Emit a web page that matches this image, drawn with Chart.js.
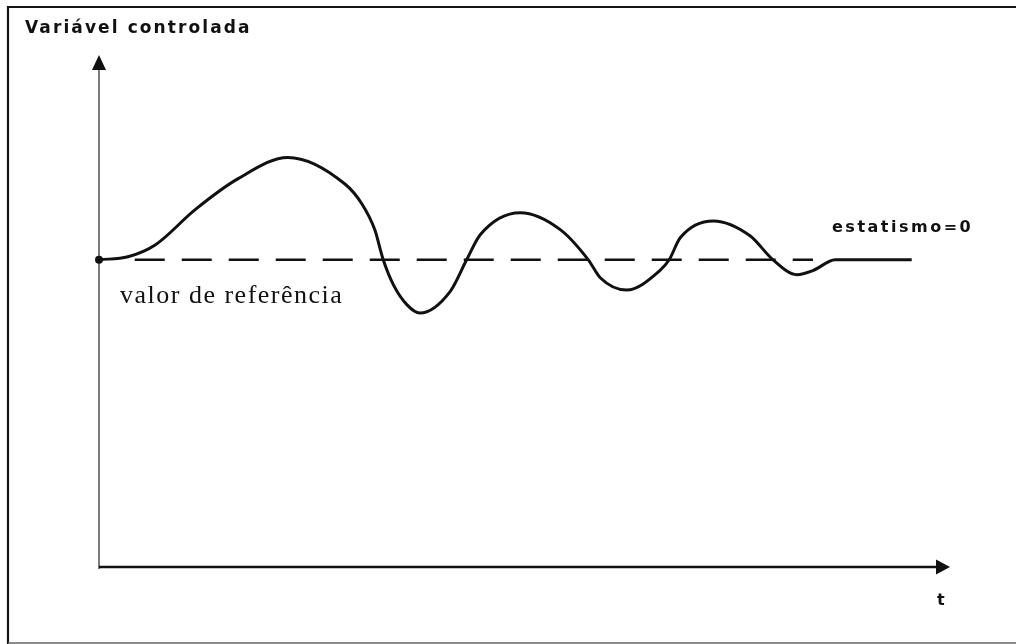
<!DOCTYPE html>
<html>
<head>
<meta charset="utf-8">
<title>Variável controlada</title>
<script src="https://cdn.jsdelivr.net/npm/chart.js@4.4.1/dist/chart.umd.min.js"></script>
<style>
  html, body { margin: 0; padding: 0; background: #fff; }
  #wrap { position: relative; width: 1016px; height: 644px; }
</style>
</head>
<body>
<div id="wrap"><canvas id="resposta"></canvas></div>
<script>
// time (0..100 along the t axis) and controlled variable (0..100 along the vertical axis)
const tempo = [0, 3.4, 6.6, 11.3, 16.3, 22.2, 28.9, 30.9, 32.4, 33.4, 34.6, 36.2, 37.7,
  41.3, 43.2, 44.8, 49.5, 54.2, 57.5, 58.9, 62.0, 65.9, 67.0, 68.3, 72.2,
  76.5, 79.2, 82.0, 83.9, 86.5, 95.5];
const variavel = [60, 60.6, 62.9, 69.8, 75.8, 80.0, 74.8, 70.9, 65.9, 60, 55.1, 51.2, 49.6,
  53.9, 60, 64.9, 69.2, 65.9, 60, 56.5, 54.1, 57.9, 60, 64.3, 67.6,
  64.7, 60, 57.1, 57.9, 60, 60];

// reference value, drawn dashed
const valorReferencia = 60;
const refInicio = 4.2;
const refFim = 83.9;

const eixoMax = 100;

const rotuloEixoY = 'Variável controlada';
const rotuloEixoX = 't';
const rotuloReferencia = 'valor de referência';
const rotuloEstatismo = 'estatismo=0';

const pontosCurva = tempo.map((t, i) => ({ x: t, y: variavel[i] }));
const pontosRef = [{ x: refInicio, y: valorReferencia }, { x: refFim, y: valorReferencia }];

// page frame, axes with arrow heads and the text labels
const desenhoFigura = {
  id: 'desenhoFigura',
  beforeDraw(chart) {
    const ctx = chart.ctx;
    ctx.save();
    ctx.fillStyle = '#fff';
    ctx.fillRect(0, 0, chart.width, chart.height);

    // frame
    ctx.strokeStyle = '#151515';
    ctx.lineWidth = 2.2;
    ctx.beginPath();
    ctx.moveTo(8, chart.height);
    ctx.lineTo(8, 7);
    ctx.lineTo(chart.width, 7);
    ctx.stroke();
    ctx.strokeStyle = '#666';
    ctx.lineWidth = 1.5;
    ctx.beginPath();
    ctx.moveTo(8, 643);
    ctx.lineTo(chart.width, 643);
    ctx.stroke();
    ctx.restore();
  },
  afterDraw(chart) {
    const ctx = chart.ctx;
    const sx = chart.scales.x;
    const sy = chart.scales.y;
    const x0 = sx.getPixelForValue(0);
    const y0 = sy.getPixelForValue(0);
    const xTopo = sx.getPixelForValue(eixoMax);
    const yTopo = sy.getPixelForValue(eixoMax);

    ctx.save();
    ctx.fillStyle = '#111';

    // vertical axis
    ctx.strokeStyle = '#333';
    ctx.lineWidth = 1.3;
    ctx.beginPath();
    ctx.moveTo(x0, y0 + 2);
    ctx.lineTo(x0, yTopo + 12);
    ctx.stroke();
    ctx.beginPath();
    ctx.moveTo(x0, yTopo);
    ctx.lineTo(x0 + 7, yTopo + 15);
    ctx.lineTo(x0 - 7, yTopo + 15);
    ctx.closePath();
    ctx.fill();

    // horizontal axis
    ctx.strokeStyle = '#111';
    ctx.lineWidth = 2.4;
    ctx.beginPath();
    ctx.moveTo(x0, y0);
    ctx.lineTo(xTopo - 12, y0);
    ctx.stroke();
    ctx.beginPath();
    ctx.moveTo(xTopo, y0);
    ctx.lineTo(xTopo - 14, y0 - 7.5);
    ctx.lineTo(xTopo - 14, y0 + 7.5);
    ctx.closePath();
    ctx.fill();

    // dot at the start of the response
    const yRef = sy.getPixelForValue(valorReferencia);
    ctx.beginPath();
    ctx.arc(x0, yRef, 4, 0, Math.PI * 2);
    ctx.fill();

    // labels
    ctx.textBaseline = 'alphabetic';
    ctx.textAlign = 'left';
    ctx.font = 'bold 17px "DejaVu Sans"';
    ctx.letterSpacing = '2.1px';
    ctx.fillText(rotuloEixoY, 25, 33);

    ctx.font = 'bold 16px "DejaVu Sans"';
    ctx.letterSpacing = '2.5px';
    ctx.fillText(rotuloEstatismo, 832, 232);

    ctx.font = 'bold 16px "DejaVu Sans"';
    ctx.letterSpacing = '0px';
    ctx.fillText(rotuloEixoX, xTopo - 13, 605);

    ctx.font = '26px "Liberation Serif"';
    ctx.letterSpacing = '1.5px';
    ctx.fillText(rotuloReferencia, x0 + 21, yRef + 43);
    ctx.restore();
  }
};

new Chart(document.getElementById('resposta'), {
  type: 'line',
  data: {
    datasets: [
      {
        label: 'resposta',
        data: pontosCurva,
        borderColor: '#111',
        borderWidth: 3,
        pointRadius: 0,
        cubicInterpolationMode: 'monotone',
        fill: false
      },
      {
        label: 'referência',
        data: pontosRef,
        borderColor: '#111',
        borderWidth: 2.4,
        borderDash: [30, 17],
        pointRadius: 0,
        fill: false
      }
    ]
  },
  options: {
    responsive: true,
    maintainAspectRatio: false,
    animation: false,
    layout: {
      autoPadding: false,
      padding: { left: 99, right: 66, top: 55, bottom: 77 }
    },
    plugins: {
      legend: { display: false },
      tooltip: { enabled: false }
    },
    scales: {
      x: { type: 'linear', min: 0, max: eixoMax, display: false },
      y: { min: 0, max: eixoMax, display: false }
    }
  },
  plugins: [desenhoFigura]
});
</script>
</body>
</html>
